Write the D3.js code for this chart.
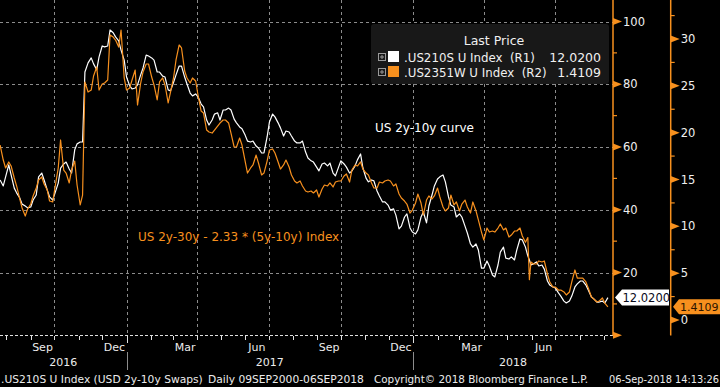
<!DOCTYPE html>
<html><head><meta charset="utf-8">
<script src="https://cdn.jsdelivr.net/npm/d3@7"></script>
<style>body{margin:0;background:#000;}svg{display:block;font-family:"DejaVu Sans",sans-serif;}</style>
</head><body><svg id="c" width="720" height="387"></svg>
<script>
// ---- data ----
// weekly (Sunday) readings plus a few event days
const dates = [
"2016-07-24","2016-07-31","2016-08-07","2016-08-14","2016-08-21","2016-08-28","2016-09-04","2016-09-11","2016-09-18","2016-09-25",
"2016-10-02","2016-10-09","2016-10-16","2016-10-23","2016-10-30","2016-11-06","2016-11-09","2016-11-13","2016-11-20","2016-11-27",
"2016-12-04","2016-12-11","2016-12-18","2016-12-25",
"2017-01-01","2017-01-08","2017-01-15","2017-01-22","2017-01-29","2017-02-05","2017-02-12","2017-02-19","2017-02-26",
"2017-03-05","2017-03-12","2017-03-19","2017-03-26","2017-04-02","2017-04-09","2017-04-16","2017-04-23","2017-04-30",
"2017-05-07","2017-05-14","2017-05-21","2017-05-28","2017-06-04","2017-06-11","2017-06-18","2017-06-25",
"2017-07-02","2017-07-09","2017-07-16","2017-07-23","2017-07-30","2017-08-06","2017-08-13","2017-08-20","2017-08-27",
"2017-09-03","2017-09-10","2017-09-17","2017-09-24","2017-10-01","2017-10-08","2017-10-15","2017-10-22","2017-10-29",
"2017-11-05","2017-11-12","2017-11-19","2017-11-26","2017-12-03","2017-12-10","2017-12-17","2017-12-24","2017-12-31",
"2018-01-07","2018-01-14","2018-01-21","2018-01-28","2018-02-04","2018-02-11","2018-02-18","2018-02-25",
"2018-03-04","2018-03-11","2018-03-18","2018-03-25","2018-04-01","2018-04-08","2018-04-15","2018-04-22","2018-04-29",
"2018-05-06","2018-05-13","2018-05-20","2018-05-27","2018-05-29","2018-06-03","2018-06-10","2018-06-17","2018-06-24",
"2018-07-01","2018-07-08","2018-07-15","2018-07-22","2018-07-29","2018-08-05","2018-08-12","2018-08-19","2018-08-26",
"2018-09-02","2018-09-06"];
// .US210S U Index (R1, left inner axis)
const us210s = [
49.5,50.5,51.1,45.4,41.8,40.6,43.1,50.5,49.5,44.1,
45.4,53.3,55.2,51.7,61.0,61.6,83.9,86.8,86.5,88.7,
91.9,97.3,95.1,90.9,
82.3,78.5,79.8,85.2,89.0,87.7,83.9,82.3,77.9,
83.0,85.8,80.1,76.3,76.0,72.8,67.0,70.5,68.6,
71.8,71.8,67.7,65.8,61.9,61.9,59.7,58.1,
68.0,69.6,66.1,65.1,63.5,61.3,61.9,56.5,55.2,
52.4,54.9,54.9,50.8,55.6,53.6,52.4,55.9,53.3,
48.9,49.2,44.4,42.5,39.9,38.3,34.8,38.7,32.9,
33.6,39.3,41.2,47.6,50.5,48.9,41.5,37.7,
37.7,32.6,28.1,27.2,21.4,22.1,18.6,26.5,24.6,
25.0,27.2,30.4,25.3,24.0,22.7,22.1,21.1,16.0,
15.1,12.5,10.3,12.5,16.4,17.3,14.4,11.6,10.6,
10.3,12.02];
// .US2351W U Index (R2, right outer axis)
const us2351w = [
18.68,16.23,16.44,14.31,11.96,11.85,13.24,14.95,14.52,12.70,
14.20,19.22,15.69,16.01,14.41,13.34,25.41,24.34,26.05,24.55,
25.30,30.43,29.89,30.96,
24.55,25.62,22.95,26.48,27.33,25.09,25.41,25.09,24.34,
27.76,29.04,25.84,25.84,24.02,22.10,20.07,20.28,21.03,
21.35,19.96,18.47,18.68,15.69,16.55,16.76,15.69,
18.15,17.83,16.12,17.08,15.48,14.63,14.31,13.67,13.56,
13.13,14.41,14.63,14.73,14.84,15.59,16.01,16.44,16.12,
15.48,14.09,14.73,14.84,14.84,14.52,13.02,12.38,11.74,
13.45,11.21,13.24,13.24,13.13,11.64,13.34,12.60,
12.38,12.06,12.60,10.68,8.54,9.39,9.39,10.25,9.82,
9.07,9.50,8.97,8.80,4.30,5.98,6.30,6.30,4.06,
3.52,3.20,2.67,4.06,4.48,4.48,3.42,2.24,2.03,
1.81,1.4109];
// mid-week (Thursday) readings
const datesMid = [
"2016-07-28","2016-08-04","2016-08-11","2016-08-18","2016-08-25","2016-09-01","2016-09-08","2016-09-15","2016-09-22","2016-09-29",
"2016-10-06","2016-10-13","2016-10-20","2016-10-27","2016-11-03","2016-11-17","2016-11-24","2016-12-01","2016-12-08","2016-12-15",
"2016-12-22","2016-12-29",
"2017-01-05","2017-01-12","2017-01-19","2017-01-26","2017-02-02","2017-02-09","2017-02-16","2017-02-23","2017-03-02","2017-03-09",
"2017-03-16","2017-03-23","2017-03-30","2017-04-06","2017-04-13","2017-04-20","2017-04-27","2017-05-04","2017-05-11","2017-05-18",
"2017-05-25","2017-06-01","2017-06-08","2017-06-15","2017-06-22","2017-06-29","2017-07-06","2017-07-13","2017-07-20","2017-07-27",
"2017-08-03","2017-08-10","2017-08-17","2017-08-24","2017-08-31","2017-09-07","2017-09-14","2017-09-21","2017-09-28","2017-10-05",
"2017-10-12","2017-10-19","2017-10-26","2017-11-02","2017-11-09","2017-11-16","2017-11-23","2017-11-30","2017-12-07","2017-12-14",
"2017-12-21","2017-12-28",
"2018-01-04","2018-01-11","2018-01-18","2018-01-25","2018-02-01","2018-02-08","2018-02-15","2018-02-22","2018-03-01","2018-03-08",
"2018-03-15","2018-03-22","2018-03-29","2018-04-05","2018-04-12","2018-04-19","2018-04-26","2018-05-03","2018-05-10","2018-05-17",
"2018-05-24","2018-05-31","2018-06-07","2018-06-14","2018-06-21","2018-06-28","2018-07-05","2018-07-12","2018-07-19","2018-07-26",
"2018-08-02","2018-08-09","2018-08-16","2018-08-23","2018-08-30"];
const us210sMid = [
47.6,54.3,46.9,43.8,41.2,40.9,44.7,51.7,46.3,43.1,
48.5,54.6,53.0,59.1,61.6,88.4,84.6,92.2,92.2,96.4,
93.8,87.7,
79.5,78.8,83.0,89.3,88.4,83.9,82.6,78.2,80.7,85.8,
82.3,77.2,76.9,73.7,68.6,68.6,70.9,71.8,72.4,68.9,
66.4,63.8,61.6,60.3,58.1,63.2,70.5,67.7,63.5,64.8,
61.9,61.3,58.4,55.6,53.6,54.6,54.0,51.7,53.6,54.6,
51.7,54.0,57.8,50.1,49.5,46.0,42.5,41.5,40.3,33.9,
37.7,34.2,
32.3,37.7,35.8,44.7,49.8,51.1,44.1,40.9,38.7,34.8,
29.1,29.1,21.4,23.7,19.2,22.4,28.1,24.3,24.0,30.7,
28.1,22.4,23.4,22.4,17.3,15.4,13.5,10.9,10.9,15.4,
17.3,16.0,12.2,10.6,10.9];
const us2351wMid = [
17.08,16.87,15.16,12.92,11.10,12.38,14.09,15.27,13.88,12.60,
16.23,16.01,14.63,16.97,12.28,24.55,27.01,25.19,25.62,30.21,
29.14,25.84,
24.77,26.69,25.30,27.33,25.94,23.49,25.84,23.17,25.94,29.36,
26.58,25.30,25.52,22.31,20.28,19.96,20.71,21.35,21.03,18.47,
19.43,16.97,16.23,17.61,15.48,16.97,18.26,16.87,16.55,16.33,
14.84,14.84,13.77,13.77,13.88,13.99,14.31,14.20,14.84,15.37,
14.73,16.55,16.87,15.69,14.63,14.09,14.63,14.95,14.31,13.45,
12.70,11.42,
12.49,12.49,12.81,12.92,14.09,12.06,11.96,12.28,11.64,12.81,
11.42,11.64,9.39,9.82,9.50,9.82,9.61,8.86,9.50,9.82,
8.30,6.19,5.98,6.19,4.91,3.52,3.20,2.99,2.99,5.34,
4.48,4.06,2.46,1.92,2.35];
const r1Ticks = [20,40,60,80,100];
const r1Minor = [0,10,30,50,70,90];
const r2Ticks = [0,5,10,15,20,25,30];
const r2Minor = [2.5,7.5,12.5,17.5,22.5,27.5,32.5];
const monthLabelDates = ["2016-09-01","2016-12-01","2017-03-01","2017-06-01","2017-09-01","2017-12-01","2018-03-01","2018-06-01"];
const monthLabelTexts = ["Sep","Dec","Mar","Jun","Sep","Dec","Mar","Jun"];
const yearLabels = ["2016","2017","2018"];
const legendNames = [".US210S U Index  (R1)", ".US2351W U Index  (R2)"];
const legendLast = ["12.0200", "1.4109"];

// ---- layout ----
const ORANGE = "#f7901e";
const svg = d3.select("#c");
const PW = 613, PB = 335.3;
const parse = d3.utcParse("%Y-%m-%d");
const x = d3.scaleUtc().domain([parse("2016-10-01"), parse("2018-07-01")]).range([54.3, 555.3]);
const y1 = d3.scaleLinear().domain([0, 100]).range([PB, 21.5]);
const y2 = d3.scaleLinear().domain([0, 30]).range([320, 39]);
const x0 = x.invert(0), x1 = x.invert(PW);

svg.append("rect").attr("width",720).attr("height",387).attr("fill","#000");
svg.append("defs").append("clipPath").attr("id","clip").append("rect").attr("x",0).attr("y",0).attr("width",PW).attr("height",PB);

// gridlines
const grid = svg.append("g").attr("stroke","#8c8c8c").attr("stroke-dasharray","3,3").attr("stroke-width",1);
grid.selectAll("line.h").data(r1Ticks).join("line").attr("class","h")
  .attr("x1",0).attr("x2",PW).attr("y1",d=>Math.round(y1(d))+0.5).attr("y2",d=>Math.round(y1(d))+0.5);
const quarters = d3.utcMonth.range(x0, x1).filter(d=>d.getUTCMonth()%3===0);
grid.selectAll("line.v").data(quarters).join("line").attr("class","v")
  .attr("x1",d=>Math.round(x(d))+0.5).attr("x2",d=>Math.round(x(d))+0.5).attr("y1",0).attr("y2",PB);
svg.append("line").attr("x1",0).attr("x2",PW).attr("y1",335.5).attr("y2",335.5)
  .attr("stroke","#e0e0e0").attr("stroke-dasharray","3,2");

// month ticks
const months = d3.utcMonth.range(x0, x1);
svg.append("g").selectAll("line").data(months).join("line")
  .attr("x1",d=>Math.round(x(d))+0.5).attr("x2",d=>Math.round(x(d))+0.5)
  .attr("y1",336).attr("y2",d=>d.getUTCMonth()===0?343:340).attr("stroke","#e0e0e0");

// month labels
svg.append("g").selectAll("text").data(monthLabelDates).join("text")
  .attr("x",d=>{const a=parse(d);return (x(a)+x(d3.utcMonth.offset(a,1)))/2;})
  .attr("y",351).attr("text-anchor","middle").attr("fill","#ececec").attr("font-size",11)
  .text((d,i)=>monthLabelTexts[i]);

// year labels and separators
const yearStarts = yearLabels.map(y=>parse(y+"-01-01"));
svg.append("g").selectAll("text").data(yearLabels).join("text")
  .attr("x",(d,i)=>{const a=Math.max(0,x(yearStarts[i]));const b=Math.min(PW,x(d3.utcYear.offset(yearStarts[i],1)));return (a+b)/2;})
  .attr("y",366).attr("text-anchor","middle").attr("fill","#ececec").attr("font-size",11).text(d=>d);
svg.append("g").selectAll("line").data(yearStarts.filter(d=>x(d)>0)).join("line")
  .attr("x1",d=>Math.round(x(d))+0.5).attr("x2",d=>Math.round(x(d))+0.5).attr("y1",352).attr("y2",370)
  .attr("stroke","#8c8c8c");

// footer
const foot = svg.append("g").attr("fill","#ececec").attr("font-size",10.7);
foot.append("text").attr("x",1).attr("y",383).text(".US210S U Index (USD 2y-10y Swaps)");
foot.append("text").attr("x",208).attr("y",383).text("Daily 09SEP2000-06SEP2018");
foot.append("text").attr("x",374).attr("y",383).attr("font-size",10.4).text("Copyright\u00a9 2018 Bloomberg Finance L.P.");
foot.append("text").attr("x",719).attr("y",383).attr("text-anchor","end").attr("font-size",9.8).text("06-Sep-2018 14:13:26");

// series: merge weekly and mid-week readings in date order
function series(ds, vs, dsM, vsM) {
  return ds.map((d,i)=>({d:parse(d),v:vs[i]})).concat(dsM.map((d,i)=>({d:parse(d),v:vsM[i]})))
    .sort((a,b)=>a.d-b.d);
}
const pts1 = series(dates, us210s, datesMid, us210sMid);
const pts2 = series(dates, us2351w, datesMid, us2351wMid);
const lines = svg.append("g").attr("clip-path","url(#clip)").attr("fill","none").attr("stroke-width",1.2).attr("stroke-linejoin","round");
lines.append("path").attr("stroke","#ffffff").attr("d",d3.line().x(p=>x(p.d)).y(p=>y1(p.v))(pts1));
lines.append("path").attr("stroke",ORANGE).attr("d",d3.line().x(p=>x(p.d)).y(p=>y2(p.v))(pts2));

// axes
function drawAxis(ax, scale, majors, minors) {
  const g = svg.append("g");
  g.append("line").attr("x1",ax).attr("x2",ax).attr("y1",0).attr("y2",335.5).attr("stroke",ORANGE).attr("stroke-width",1.5);
  g.selectAll("line.m").data(minors).join("line").attr("class","m")
    .attr("x1",ax).attr("x2",ax+4).attr("y1",d=>scale(d)).attr("y2",d=>scale(d)).attr("stroke",ORANGE).attr("stroke-width",1.2);
  g.selectAll("path").data(majors).join("path")
    .attr("d",d=>{const y=scale(d);return `M${ax},${y-3.5}L${ax+9},${y}L${ax},${y+3.5}Z`;}).attr("fill",ORANGE);
  g.selectAll("text").data(majors).join("text")
    .attr("x",ax+10).attr("y",d=>scale(d)+4).attr("fill","#f0f0f0").attr("font-size",11.5).text(d=>d);
}
drawAxis(613, y1, r1Ticks, r1Minor);
svg.append("path").attr("d",`M613,${y1(0)-3.5}L622,${y1(0)}L613,${y1(0)+3.5}Z`).attr("fill",ORANGE);
drawAxis(670.7, y2, r2Ticks, r2Minor);

// last value tags
const ty1 = y1(us210s[us210s.length-1]);
svg.append("path").attr("d",`M615,${ty1}L622,${ty1-8}L669,${ty1-8}L669,${ty1+8}L622,${ty1+8}Z`).attr("fill","#ffffff");
svg.append("text").attr("x",622.5).attr("y",ty1+4).attr("font-size",11.5).attr("fill","#0a0a1a").text(legendLast[0]);
const ty2 = y2(us2351w[us2351w.length-1]);
svg.append("path").attr("d",`M673,${ty2}L679,${ty2-7.5}L720,${ty2-7.5}L720,${ty2+7.5}L679,${ty2+7.5}Z`).attr("fill",ORANGE);
svg.append("text").attr("x",680).attr("y",ty2+4).attr("font-size",11).attr("fill","#2a1500").text(legendLast[1]);

// legend
const lg = svg.append("g");
lg.append("rect").attr("x",371).attr("y",24).attr("width",238).attr("height",60).attr("rx",3).attr("fill","#181818");
lg.append("text").attr("x",494).attr("y",45).attr("text-anchor","middle").attr("fill","#f0f0f0").attr("font-size",12.5).text("Last Price");
const lcols = ["#ffffff", ORANGE];
legendNames.forEach((n,i)=>{
  const cy = 57 + i*15;
  lg.append("rect").attr("x",378.5).attr("y",cy-3.5).attr("width",7).attr("height",7).attr("fill","none").attr("stroke","#9a9a9a");
  lg.append("path").attr("d",`M380,${cy}H384M382,${cy-2}V${cy+2}`).attr("stroke","#9a9a9a");
  lg.append("rect").attr("x",388).attr("y",cy-6).attr("width",11).attr("height",11).attr("fill",lcols[i]);
  lg.append("text").attr("x",404).attr("y",cy+4.5).attr("fill","#f0f0f0").attr("font-size",11.8).style("white-space","pre").text(n);
  lg.append("text").attr("x",601).attr("y",cy+4.5).attr("text-anchor","end").attr("fill","#f0f0f0").attr("font-size",12.5).text(legendLast[i]);
});

// annotations
svg.append("text").attr("x",375).attr("y",132).attr("fill","#ffffff").attr("font-size",12).text("US 2y-10y curve");
svg.append("text").attr("x",138).attr("y",241).attr("fill",ORANGE).attr("font-size",12).text("US 2y-30y - 2.33 * (5y-10y) Index");
</script></body></html>
